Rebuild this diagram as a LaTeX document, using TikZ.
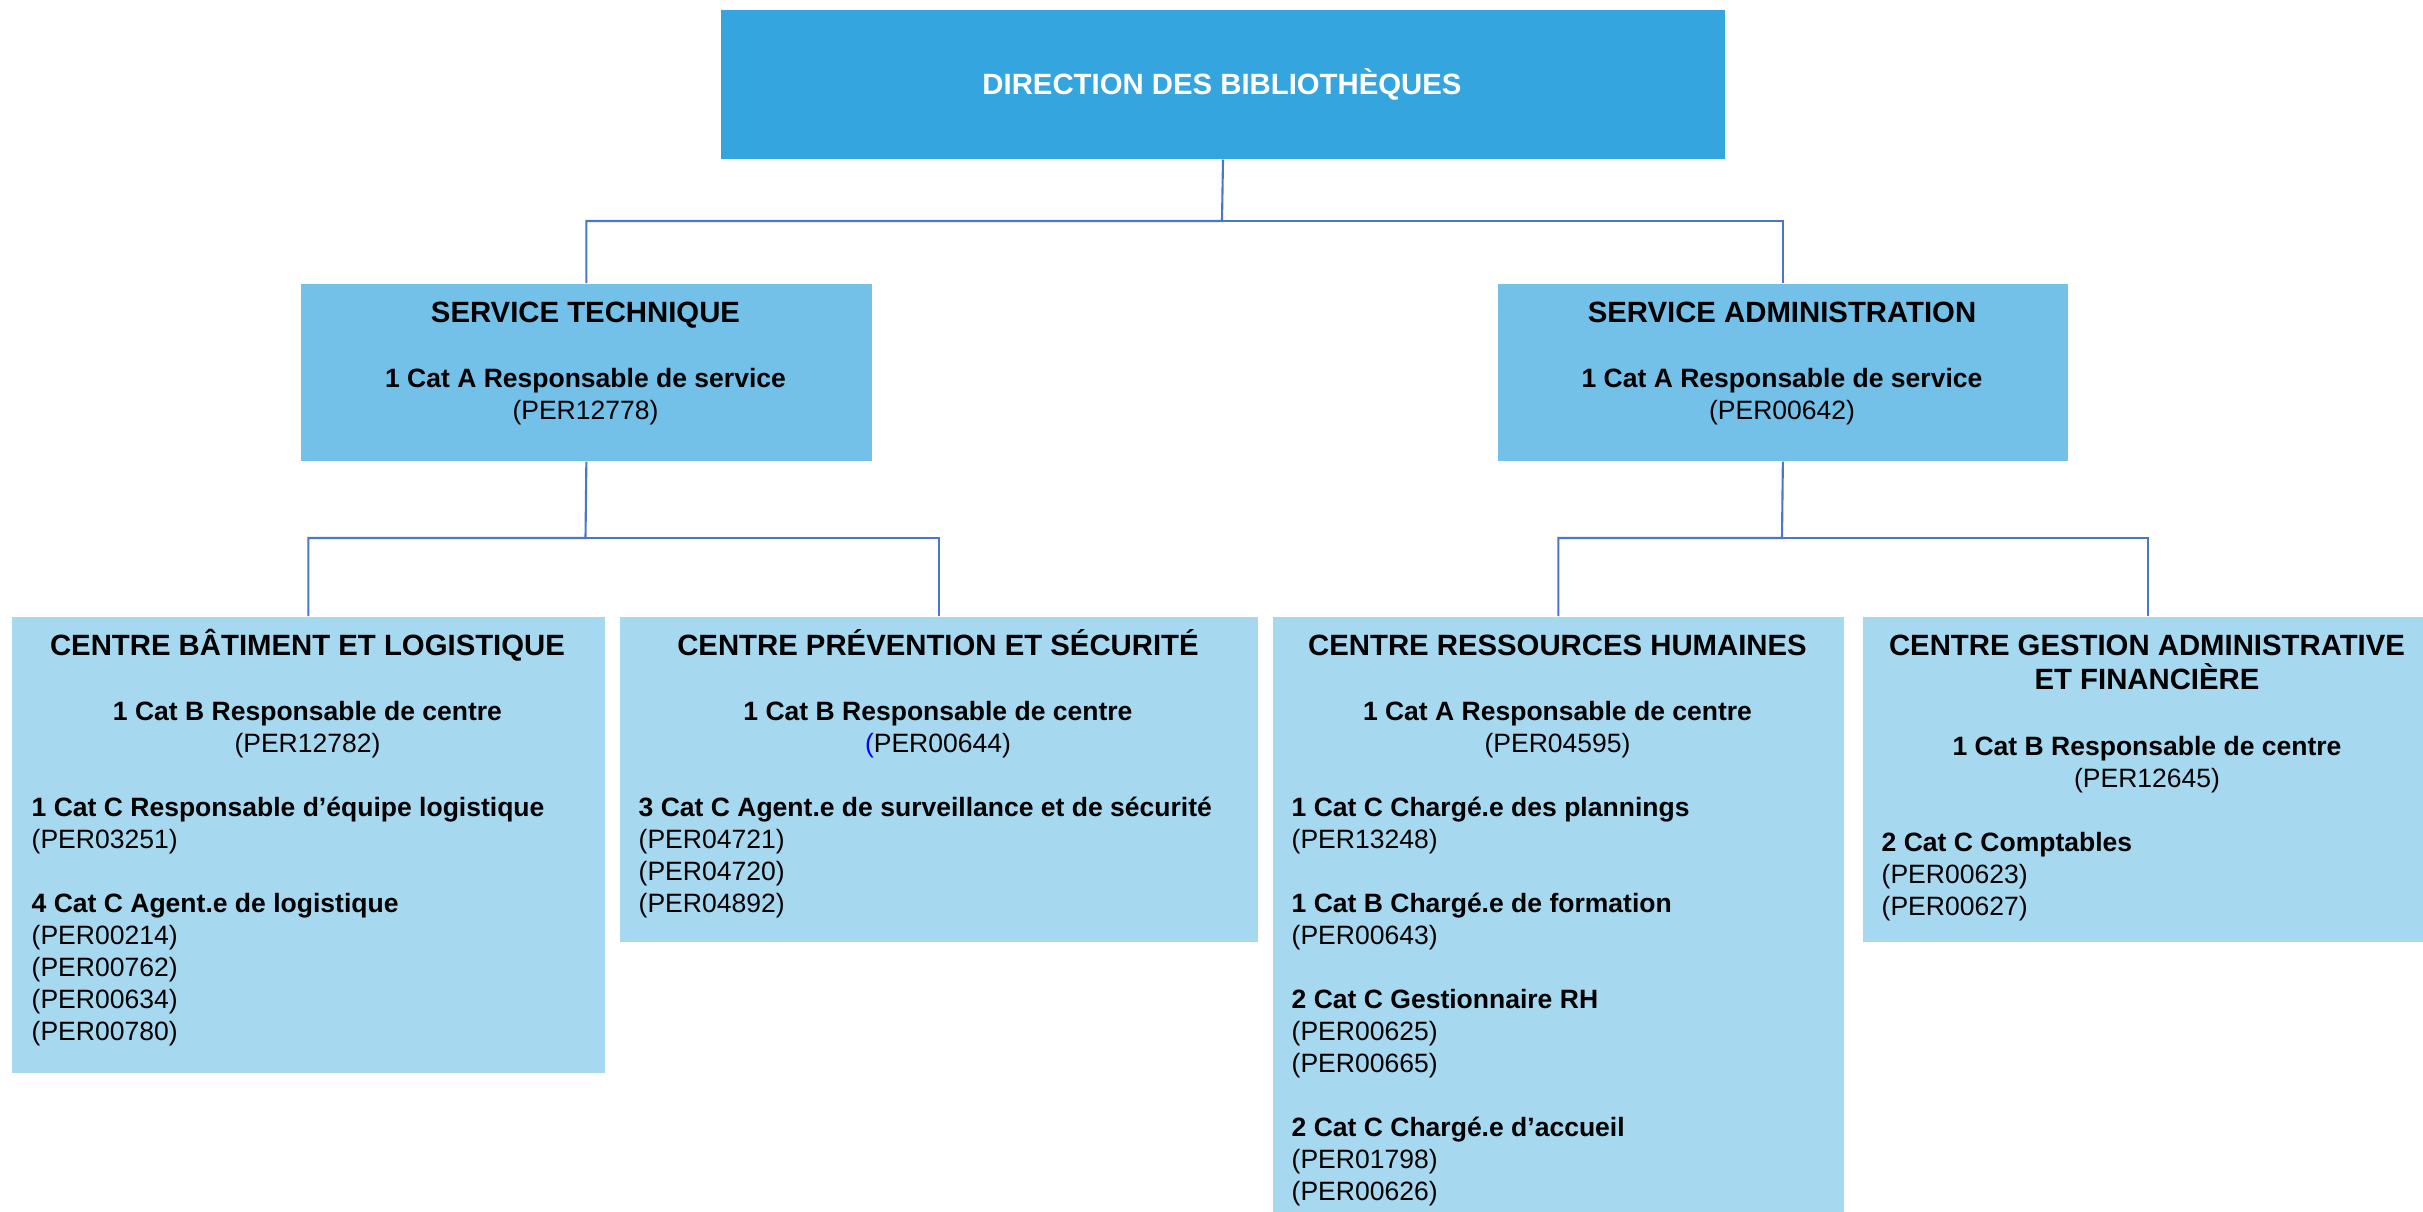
\documentclass[tikz,border=0pt]{standalone}
\usepackage{fontspec}
\setmainfont{Liberation Sans}
\usepackage{tikz}

\definecolor{dirblue}{RGB}{52,165,222}
\definecolor{svcblue}{RGB}{115,192,232}
\definecolor{ctrblue}{RGB}{166,216,240}
\definecolor{linkblue}{RGB}{74,118,204}

\begin{document}
\begin{tikzpicture}[x=0.01cm, y=-0.01cm,
    unitbox/.style={rectangle, inner sep=0, anchor=north west},
    titletext/.style={font=\fontsize{8.34}{9.6}\selectfont\bfseries, align=center, anchor=base, inner sep=0},
    bodytext/.style={font=\fontsize{7.54}{9.1}\selectfont, inner sep=0, anchor=base},
    link/.style={draw=linkblue, line width=0.6pt}]
        \useasboundingbox (0,0) rectangle (2423,1211);

        % Direction
        \node[unitbox, fill=dirblue, minimum width=10.04cm, minimum height=1.49cm] (dir) at (720,9) {};
        \node[titletext, text=white] (dir-title) at (1222,94) {DIRECTION DES BIBLIOTHÈQUES};

        % Services (multi-line texts sit on their last line)
        \node[unitbox, fill=svcblue, minimum width=5.71cm, minimum height=1.77cm] (st) at (300,283) {};
        \node[titletext] (st-title) at (585.5,322) {SERVICE TECHNIQUE};
        \node[bodytext, align=center] (st-head) at (585.5,419) {\textbf{1 Cat A Responsable de service}\\(PER12778)};

        \node[unitbox, fill=svcblue, minimum width=5.70cm, minimum height=1.77cm] (sa) at (1497,283) {};
        \node[titletext] (sa-title) at (1782,322) {SERVICE ADMINISTRATION};
        \node[bodytext, align=center] (sa-head) at (1782,419) {\textbf{1 Cat A Responsable de service}\\(PER00642)};

        % Centres
        \node[unitbox, fill=ctrblue, minimum width=5.93cm, minimum height=4.56cm] (cbl) at (11,616) {};
        \node[titletext] (cbl-title) at (307.5,655) {CENTRE BÂTIMENT ET LOGISTIQUE};
        \node[bodytext, align=center] (cbl-head) at (307.5,752) {\textbf{1 Cat B Responsable de centre}\\(PER12782)};
        \node[bodytext, anchor=base west, align=left] (cbl-list) at (31,1040) {\textbf{1 Cat C Responsable d’équipe logistique}\\(PER03251)\\[9.1pt]
            \textbf{4 Cat C Agent.e de logistique}\\(PER00214)\\(PER00762)\\(PER00634)\\(PER00780)};

        \node[unitbox, fill=ctrblue, minimum width=6.38cm, minimum height=3.25cm] (cps) at (619,616) {};
        \node[titletext] (cps-title) at (938,655) {CENTRE PRÉVENTION ET SÉCURITÉ};
        \node[bodytext, align=center] (cps-head) at (938,752) {\textbf{1 Cat B Responsable de centre}\\\textcolor{blue}{(}PER00644)};
        \node[bodytext, anchor=base west, align=left] (cps-list) at (638,912) {\textbf{3 Cat C Agent.e de surveillance et de sécurité}\\(PER04721)\\(PER04720)\\(PER04892)};

        \node[unitbox, fill=ctrblue, minimum width=5.71cm, minimum height=6.4cm] (crh) at (1272,616) {};
        \node[titletext] (crh-title) at (1557.5,655) {CENTRE RESSOURCES HUMAINES};
        \node[bodytext, align=center] (crh-head) at (1557.5,752) {\textbf{1 Cat A Responsable de centre}\\(PER04595)};
        \node[bodytext, anchor=base west, align=left] (crh-list) at (1291,1200) {\textbf{1 Cat C Chargé.e des plannings}\\(PER13248)\\[9.1pt]
            \textbf{1 Cat B Chargé.e de formation}\\(PER00643)\\[9.1pt]
            \textbf{2 Cat C Gestionnaire RH}\\(PER00625)\\(PER00665)\\[9.1pt]
            \textbf{2 Cat C Chargé.e d’accueil}\\(PER01798)\\(PER00626)};

        \node[unitbox, fill=ctrblue, minimum width=5.7cm, minimum height=3.25cm] (cgaf) at (1862,616) {};
        \node[titletext] (cgaf-title) at (2147,689) {CENTRE GESTION ADMINISTRATIVE\\ET FINANCIÈRE};
        \node[bodytext, align=center] (cgaf-head) at (2147,787) {\textbf{1 Cat B Responsable de centre}\\(PER12645)};
        \node[bodytext, anchor=base west, align=left] (cgaf-list) at (1881,915) {\textbf{2 Cat C Comptables}\\(PER00623)\\(PER00627)};

        % Connectors
        \coordinate (bus-dir) at (1222,221);
        \coordinate (bus-st) at (585.5,538);
        \coordinate (bus-sa) at (1782,538);
        \draw[link] (dir.south) -- (bus-dir) -| (st.north);
        \draw[link] (bus-dir) -| (sa.north);
        \draw[link] (st.south) -- (bus-st) -| (cbl.north);
        \draw[link] (bus-st) -| (cps.north);
        \draw[link] (sa.south) -- (bus-sa) -| (crh.north);
        \draw[link] (bus-sa) -| (cgaf.north);
    \end{tikzpicture}
\end{document}
